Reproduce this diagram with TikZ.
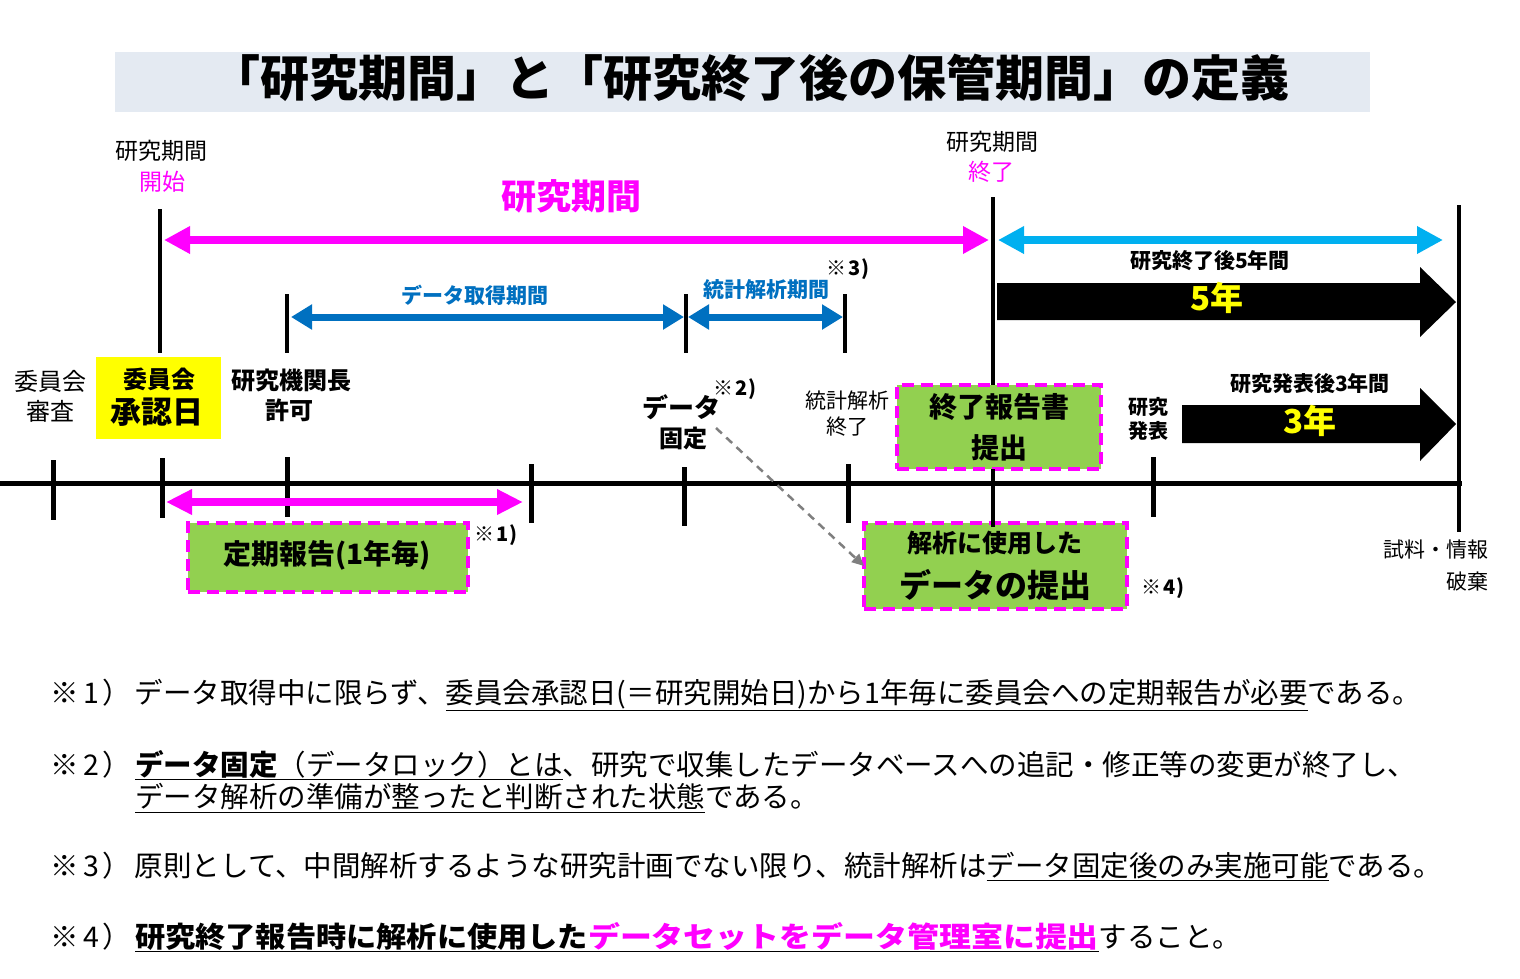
\documentclass[tikz,border=0pt]{standalone}
\usepackage{fontspec}
\usepackage{graphicx}
\setmainfont{Noto Sans CJK JP}
\usetikzlibrary{arrows.meta}
\definecolor{mag}{HTML}{FF00FF}
\definecolor{cyanar}{HTML}{00B0F0}
\definecolor{bluear}{HTML}{0070C0}
\definecolor{grn}{HTML}{92D050}
\definecolor{ylw}{HTML}{FFFF00}
\definecolor{titlebg}{HTML}{E4EAF2}
\definecolor{grayar}{HTML}{7F7F7F}
\newcommand{\fsz}[1]{\fontsize{#1pt}{#1pt}\selectfont}
\newcommand{\npre}[1]{\makebox[85pt][l]{※\hspace{5pt}#1\hspace{3pt}）}}
\tikzset{
  t/.style={inner sep=0pt, outer sep=0pt},
  tick/.style={line width=5pt},
  vline/.style={line width=4.5pt},
  bigarrow/.style={line width=7.5pt, {Triangle[length=26pt,width=26pt]}-{Triangle[length=26pt,width=26pt]}},
  bluearrow/.style={bluear, line width=7pt, {Triangle[length=21pt,width=24pt]}-{Triangle[length=21pt,width=24pt]}},
  gbox/.style={t, fill=grn, draw=mag, line width=4pt, dash pattern=on 12pt off 7pt},
  yarrowtxt/.style={t, font=\fsz{33}\bfseries, text=ylw},
  note/.style={t, anchor=west, font=\fsz{28.5}},
}
\begin{document}
\begin{tikzpicture}[x=1pt,y=-1pt]
\useasboundingbox (0,0) rectangle (1520,978);
\fill[white] (0,0) rectangle (1520,978);

% title
\fill[titlebg] (115,52) rectangle (1370,112);
\node[t, font=\fsz{49}\bfseries] (title) at (750,78) {「研究期間」と「研究終了後の保管期間」の定義};

% top labels
\node[t, font=\fsz{23}] (startA) at (161,151) {研究期間};
\node[t, font=\fsz{23}, text=mag] (startB) at (162,182) {開始};
\node[t, font=\fsz{23}] (endA) at (992,142) {研究期間};
\node[t, font=\fsz{23}, text=mag] (endB) at (991,172) {終了};
\node[t, font=\fsz{35}\bfseries, text=mag] (rp) at (571,196) {研究期間};

% vertical lines
\draw[vline] (160,209) -- (160,353);
\draw[vline] (993,197) -- (993,527);
\draw[vline] (1459,205) -- (1459,532);
\draw[vline] (287,294) -- (287,353);
\draw[vline] (686,294) -- (686,353);
\draw[vline] (845,294) -- (845,353);

% period arrows
\coordinate (rpL) at (164,240);
\coordinate (rpR) at (989,240);
\draw[bigarrow, mag] (rpL) -- (rpR);
\coordinate (pcL) at (998,240);
\coordinate (pcR) at (1443,240);
\draw[bigarrow, cyanar] (pcL) -- (pcR);

\coordinate (daL) at (291,317);
\coordinate (daR) at (684,317);
\draw[bluearrow] (daL) -- (daR);
\coordinate (saL) at (688,317);
\coordinate (saR) at (843,317);
\draw[bluearrow] (saL) -- (saR);
\node[t, font=\fsz{21}\bfseries, text=bluear] (dalbl) at (475,295) {データ取得期間};
\node[t, font=\fsz{21}\bfseries, text=bluear] (salbl) at (766,290) {統計解析期間};
\node[t, font=\fsz{20}\bfseries] (n3) at (848,269) {※\hspace{2pt}3\hspace{1pt})};

% block arrows
\fill (997,283) -- (1420,283) -- (1420,267) -- (1456,302) -- (1420,337) -- (1420,320) -- (997,320) -- cycle;
\fill (1182,405) -- (1420,405) -- (1420,388) -- (1456,424) -- (1420,461) -- (1420,443) -- (1182,443) -- cycle;
\node[t, font=\fsz{21}\bfseries] (p5lbl) at (1210,261) {研究終了後5年間};
\node[yarrowtxt] (p5) at (1217,298) {5年};
\node[t, font=\fsz{21}\bfseries] (p3lbl) at (1310,384) {研究発表後3年間};
\node[yarrowtxt] (p3) at (1310,421) {3年};
\node[t, font=\fsz{20}\bfseries] (pubA) at (1148,407) {研究};
\node[t, font=\fsz{20}\bfseries] (pubB) at (1148,431) {発表};

% left labels
\node[t, font=\fsz{24}] (revA) at (50,381) {委員会};
\node[t, font=\fsz{24}] (revB) at (50,411) {審査};
\node[t, fill=ylw, minimum width=125pt, minimum height=82pt] (ybox) at (158.5,398) {};
\node[t, font=\fsz{24}\bfseries] (appA) at (159,379) {委員会};
\node[t, font=\fsz{31}\bfseries] (appB) at (157,412) {承認日};
\node[t, font=\fsz{24}\bfseries] (instA) at (291,380) {研究機関長};
\node[t, font=\fsz{24}\bfseries] (instB) at (289,410) {許可};

% middle labels
\node[t, font=\fsz{26}\bfseries] (fixA) at (681,407) {データ};
\node[t, font=\fsz{24}\bfseries] (fixB) at (683,438) {固定};
\node[t, font=\fsz{20}\bfseries] (n2) at (735,389) {※\hspace{2pt}2\hspace{1pt})};
\node[t, font=\fsz{21}] (saEndA) at (847,401) {統計解析};
\node[t, font=\fsz{21}] (saEndB) at (847,427) {終了};

% timeline
\draw[tick] (0,483) -- (1462,483);
\foreach \x/\a/\b in {53/460/520, 162/458/518, 287/457/517, 531/464/523, 684/467/526, 848/464/523, 1153/457/517}
  \draw[tick] (\x,\a) -- (\x,\b);

% green boxes
\node[gbox, minimum width=204pt, minimum height=84pt] (endrep) at (999,427) {};
\node[t, font=\fsz{28}\bfseries] (endrepA) at (999,407) {終了報告書};
\node[t, font=\fsz{28}\bfseries] (endrepB) at (999,448) {提出};

\node[gbox, minimum width=280pt, minimum height=69pt] (teiki) at (328,557.5) {};
\node[t, font=\fsz{28}\bfseries] (teikiT) at (327,555) {定期報告(1年毎)};
\node[t, font=\fsz{20}\bfseries] (n1) at (496,535) {※\hspace{2pt}1\hspace{1pt})};

\node[gbox, minimum width=263pt, minimum height=86pt] (datasub) at (995.5,566) {};
\node[t, font=\fsz{25}\bfseries] (datasubA) at (995,543) {解析に使用した};
\node[t, font=\fsz{32}\bfseries] (datasubB) at (995,585) {データの提出};
\node[t, font=\fsz{20}\bfseries] (n4) at (1163,588) {※\hspace{2pt}4\hspace{1pt})};

\draw[vline] (993,469) -- (993,527);

% lower magenta arrow
\coordinate (trL) at (166,502);
\coordinate (trR) at (523,502);
\draw[mag, line width=8pt, {Triangle[length=26pt,width=24pt]}-{Triangle[length=26pt,width=24pt]}] (trL) -- (trR);

% gray dashed arrow
\coordinate (gstart) at (716,428);
\draw[grayar, line width=2.5pt, dash pattern=on 8pt off 6pt, -{Triangle[length=12pt,width=11pt]}] (gstart) -- (datasub.west);

% disposal
\node[t, font=\fsz{21}, anchor=east] (dispA) at (1488,550) {試料・情報};
\node[t, font=\fsz{21}, anchor=east] (dispB) at (1488,581) {破棄};

% notes
\node[note] (note1) at (50,695) {\npre{1}データ取得中に限らず、\underline{委員会承認日(＝研究開始日)から1年毎に委員会への定期報告が必要}である。};
\node[note] (note2a) at (50,765) {\npre{2}\underline{\textbf{データ固定}（データロック）とは}、研究で収集したデータベースへの追記・修正等の変更が終了し、};
\node[note] (note2b) at (135,798) {\underline{データ解析の準備が整ったと判断された状態}である。};
\node[note] (note3) at (50,866) {\npre{3}原則として、中間解析するような研究計画でない限り、統計解析は\underline{データ固定後のみ実施可能}である。};
\node[note] (note4) at (50,937) {\npre{4}\underline{\scalebox{1.06}[1]{\textbf{研究終了報告時に解析に使用した}}\scalebox{1.12}[1]{\textcolor{mag}{\textbf{データセットをデータ管理室に提出}}}}すること。};
\end{tikzpicture}
\end{document}
